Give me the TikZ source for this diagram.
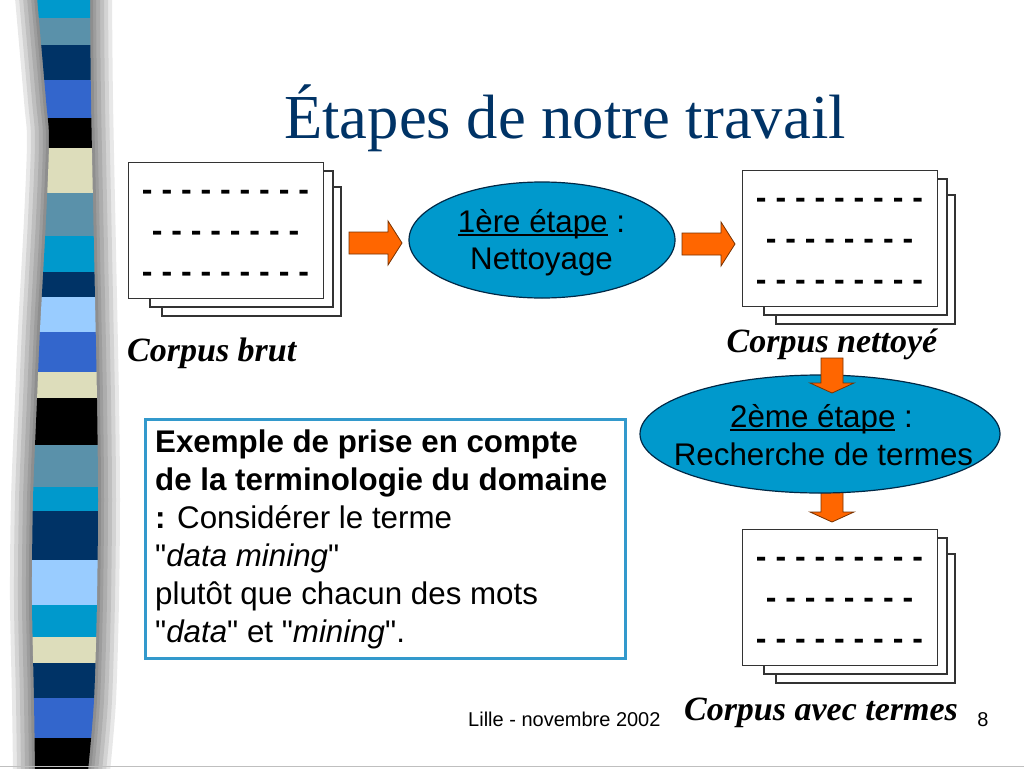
\documentclass[tikz,border=0pt]{standalone}
\usepackage{fontspec}
\setmainfont{Liberation Serif}
\setsansfont{Liberation Sans}[Ligatures=TeXOff]
\usetikzlibrary{shapes.geometric}
\definecolor{titleblue}{RGB}{0,51,102}
\definecolor{ellfill}{RGB}{0,153,204}
\definecolor{ellline}{RGB}{0,40,70}
\definecolor{arroworange}{RGB}{255,102,0}
\definecolor{arrowline}{RGB}{120,50,0}
\definecolor{boxblue}{RGB}{51,153,204}
\definecolor{scyan}{RGB}{0,153,204}
\definecolor{ssteel}{RGB}{90,145,170}
\definecolor{snavy}{RGB}{0,51,102}
\definecolor{sroyal}{RGB}{51,102,204}
\definecolor{sbeige}{RGB}{221,221,187}
\definecolor{slight}{RGB}{153,204,255}
\tikzset{
  docrect/.style={draw=black!80, fill=white, line width=1.2pt},
  docfront/.style={docrect, minimum width=195pt, minimum height=136pt, inner sep=0pt, anchor=north west},
  dashrow/.style={anchor=base, inner sep=0pt, font=\sffamily\bfseries\fontsize{32}{38}\selectfont},
  blockarrow/.style={fill=arroworange, draw=arrowline, line width=0.8pt, line join=miter},
  stepell/.style={ellipse, draw=ellline, fill=ellfill, line width=1.2pt, inner sep=0pt},
  elltext/.style={anchor=base, inner sep=0pt, font=\sffamily\fontsize{31.3}{37.6}\selectfont},
  exline/.style={anchor=base west, inner sep=0pt, font=\sffamily\fontsize{31.3}{37.6}\selectfont},
  corpuslabel/.style={inner sep=0pt, font=\rmfamily\bfseries\itshape\fontsize{34}{40}\selectfont},
}
\newcommand\myul[1]{\setbox0\hbox{#1}\rlap{\rule[-4.2pt]{\wd0}{2.2pt}}\box0\relax}
\newcommand\dq{{\upshape\char34}}
\newcommand\docstack[3]{%
  \draw[docrect] (#2+34,#3+25) rectangle (#2+213,#3+154);
  \draw[docrect] (#2+22,#3+9) rectangle (#2+205,#3+145);
  \node[docfront] (#1) at (#2,#3) {};
  \node[dashrow] (#1-r1) at (#2+97.5,#3+38.6) {- - - - - - - - -};
  \node[dashrow] (#1-r2) at (#2+97.5,#3+79.6) {- - - - - - - -};
  \node[dashrow] (#1-r3) at (#2+97.5,#3+120.6) {- - - - - - - - -};
}
\newcommand\myrarrow[2]{%
  \draw[blockarrow] (#1,#2-11) -- (#1+39,#2-11) -- (#1+39,#2-22) -- (#1+53,#2) -- (#1+39,#2+22) -- (#1+39,#2+11) -- (#1,#2+11) -- cycle;
}
\newcommand\mydarrow[2]{%
  \draw[blockarrow] (#1-11,#2) -- (#1+11,#2) -- (#1+11,#2+25) -- (#1+22,#2+25) -- (#1,#2+35) -- (#1-22,#2+25) -- (#1-11,#2+25) -- cycle;
}
\newcommand\stripepath{plot[smooth] coordinates {(37,-3) (46,100) (49,140) (46,220) (40,330) (37,400) (33,500) (32,600) (34,700) (35,771)} -- plot[smooth] coordinates {(88,771) (94,700) (97,600) (98,500) (97,400) (94,250) (91,100) (90,-3)} -- cycle}
\begin{document}
\begin{tikzpicture}[x=1pt,y=-1pt]
\useasboundingbox (0,0) rectangle (1024,768);
\fill[white] (0,0) rectangle (1024,768);
% left decorative stripe with shadow
\foreach \w in {44,36,28,20,12,6}
  \draw[line width=\w pt, black, opacity=0.09, line join=round] \stripepath;
\begin{scope}
\clip \stripepath;
\foreach \a/\b/\c in {-5/18/scyan, 18/45/ssteel, 45/80/snavy, 80/118/sroyal, 118/148/black, 148/193/sbeige, 193/236/ssteel, 236/272/scyan, 272/297/snavy, 297/332/slight, 332/372/sroyal, 372/398/sbeige, 398/445/black, 445/487/ssteel, 487/511/scyan, 511/560/snavy, 560/605/slight, 605/637/scyan, 637/663/sbeige, 663/698/snavy, 698/738/sroyal, 738/775/black}
  \fill[\c] (10,\a) rectangle (120,\b);
\end{scope}
\draw[black!25, line width=1.5pt] (0,766.5) -- (1024,766.5);
% title
\node[anchor=base, inner sep=0pt, text=titleblue, font=\rmfamily\fontsize{62.6}{75}\selectfont] (title) at (565,138) {Étapes de notre travail};
% document stacks
\docstack{brut}{128}{162}
\docstack{nett}{742}{170}
\docstack{term}{742}{529}
% labels
\node[corpuslabel, anchor=base west] (lbrut) at (127,361) {Corpus brut};
\node[corpuslabel, anchor=base] (lnett) at (832,352) {Corpus nettoyé};
\node[corpuslabel, anchor=base] (lterm) at (821,720) {Corpus avec termes};
% arrows
\myrarrow{349}{243}
\myrarrow{682}{244}
% step 1
\node[stepell, minimum width=266pt, minimum height=116pt] (e1) at (542,240) {};
\node[elltext] (e1a) at (541.5,232) {\myul{1ère étape} :};
\node[elltext] (e1b) at (541.5,269.5) {Nettoyage};
% step 2
\mydarrow{832}{487}
\node[stepell, minimum width=360pt, minimum height=118pt] (e2) at (820,434) {};
\mydarrow{832}{358}
\node[elltext] (e2a) at (821.5,427) {\myul{2ème étape} :};
\node[elltext] (e2b) at (823.5,465) {Recherche de termes};
% example box
\node[draw=boxblue, line width=3pt, minimum width=480pt, minimum height=239pt, inner sep=0pt, anchor=north west] (exbox) at (144,418) {};
\node[exline] (x1) at (155,452) {\bfseries Exemple de prise en compte};
\node[exline] (x2) at (155,490) {\bfseries de la terminologie du domaine};
\node[exline] (x3) at (155,528) {{\bfseries :} Considérer le terme};
\node[exline] (x4) at (155,566) {\dq\textit{data mining}\dq};
\node[exline] (x5) at (155,604) {plutôt que chacun des mots};
\node[exline] (x6) at (155,642) {\dq\textit{data}\dq{} et \dq\textit{mining}\dq.};
% footer
\node[anchor=base west, inner sep=0pt, font=\sffamily\fontsize{20}{24}\selectfont] (foot) at (468,726) {Lille - novembre 2002};
\node[anchor=base, inner sep=0pt, font=\sffamily\fontsize{20}{24}\selectfont] (pnum) at (983,726) {8};
\end{tikzpicture}
\end{document}
